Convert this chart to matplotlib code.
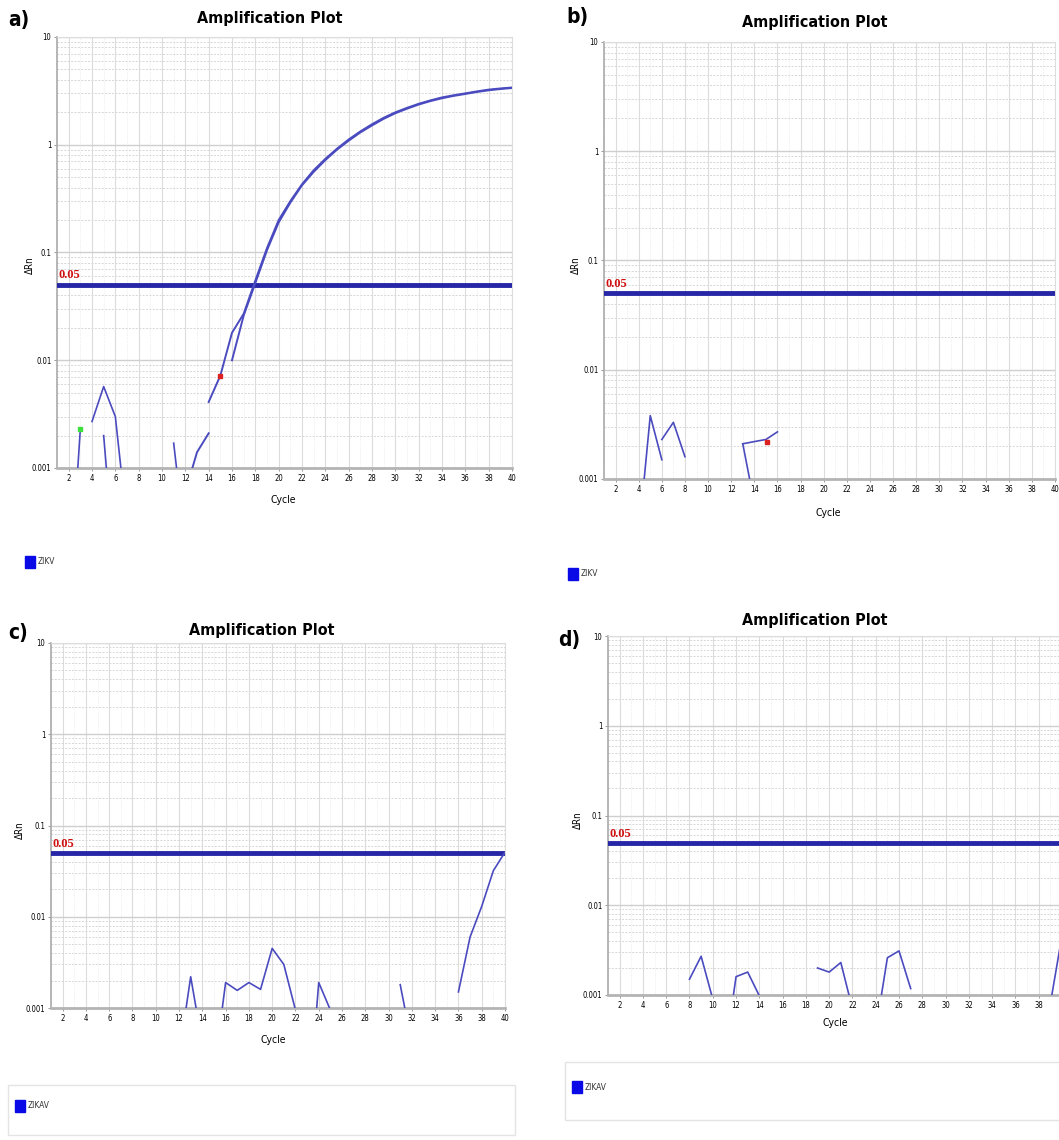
import numpy as np
import matplotlib
matplotlib.use('Agg')
import matplotlib.pyplot as plt
from matplotlib.patches import Rectangle
from matplotlib.ticker import FixedLocator, NullFormatter, LogLocator

plt.rcParams['font.family'] = ['DejaVu Sans']
plt.rcParams['font.stretch'] = 'condensed'

# ========== data (cycle, delta Rn) ==========
threshold = 0.05
y_ticks = [0.001, 0.01, 0.1, 1, 10]
y_ticklabels = ['0.001', '0.01', '0.1', '1', '10']
x_ticks = list(range(2, 41, 2))

# a) positive sample
a_amp1_x = list(range(14, 41))
a_amp1_y = [0.0041, 0.0072, 0.018, 0.027, 0.055, 0.11, 0.2, 0.3, 0.43, 0.58,
            0.74, 0.92, 1.12, 1.33, 1.55, 1.78, 2.0, 2.2, 2.4, 2.58,
            2.75, 2.88, 3.0, 3.13, 3.25, 3.33, 3.4]
a_amp2_x = [12, 13, 14, 15] + list(range(16, 41))
a_amp2_y = [0.0006, 0.0014, 0.0021, np.nan,
            0.010, 0.026, 0.052, 0.105, 0.19, 0.29, 0.42, 0.56, 0.72, 0.9,
            1.09, 1.3, 1.51, 1.74, 1.96, 2.16, 2.36, 2.54, 2.7, 2.84,
            2.96, 3.09, 3.2, 3.29, 3.36]
a_noise = [
    ([2, 3], [0.00005, 0.0023]),
    ([4, 5, 6, 7], [0.0027, 0.0057, 0.003, 0.0003]),
    ([5, 6], [0.002, 0.0001]),
    ([11, 12], [0.0017, 0.0002]),
]
a_green = (3, 0.0023)
a_red = (15, 0.0072)

# b) negative sample
b_noise = [
    ([4, 5, 6], [0.0003, 0.0038, 0.0015]),
    ([6, 7, 8], [0.0023, 0.0033, 0.0016]),
    ([13, 14], [0.0021, 0.0006]),
    ([13, 14, 15, 16], [0.0021, 0.0022, 0.0023, 0.0027]),
]
b_red = (15.1, 0.0022)

# c) late rise
c_noise = [
    ([12, 13, 14], [0.0003, 0.0022, 0.0004]),
    ([15, 16, 17, 18, 19, 20, 21, 22],
     [0.0002, 0.0019, 0.00156, 0.0019, 0.0016, 0.0045, 0.003, 0.00095]),
    ([23, 24, 25], [0.00005, 0.0019, 0.00095]),
    ([31, 32], [0.0018, 0.0004]),
    ([36, 37, 38, 39, 40], [0.0015, 0.006, 0.013, 0.032, 0.051]),
]

# d) negative
d_noise = [
    ([8, 9, 10], [0.0015, 0.0027, 0.0009]),
    ([11, 12, 13, 14], [0.0002, 0.0016, 0.0018, 0.00098]),
    ([19, 20, 21, 22], [0.002, 0.0018, 0.0023, 0.0007]),
    ([24, 25, 26, 27], [0.0004, 0.0026, 0.0031, 0.00118]),
    ([38, 39, 40], [0.00005, 0.0008, 0.0046]),
]

W, H = 1059, 1140
line_col = '#4b4bc0'
thr_col = '#2626a6'

fig = plt.figure(figsize=(W / 100, H / 100), dpi=100)


def rect(l, t, r, b):
    return [l / W, 1 - b / H, (r - l) / W, (b - t) / H]


def ftext(x, y, s, **kw):
    fig.text(x / W, 1 - y / H, s, **kw)


def panel(box, letter, letter_xy, title_xy, cyc_xy, drn_xy, xlabels=None):
    ax = fig.add_axes(rect(*box))
    ax.set_yscale('log')
    ax.set_xlim(1, 40)
    ax.set_ylim(0.001, 10)
    ax.xaxis.set_major_locator(FixedLocator(x_ticks))
    ax.xaxis.set_minor_locator(FixedLocator(range(1, 41)))
    ax.yaxis.set_major_locator(FixedLocator(y_ticks))
    ax.yaxis.set_minor_locator(LogLocator(base=10, subs=range(2, 10)))
    ax.yaxis.set_minor_formatter(NullFormatter())
    ax.set_yticklabels(y_ticklabels)
    if xlabels is not None:
        ax.set_xticklabels(xlabels)
    ax.tick_params(axis='both', which='major', labelsize=5.5, length=2,
                   width=0.6, color='#888888', pad=2)
    ax.tick_params(axis='both', which='minor', length=0)
    ax.grid(True, which='major', axis='x', color='#dcdcdc', lw=0.8)
    ax.grid(True, which='minor', axis='x', color='#e6e6e6', lw=0.6, ls=':')
    ax.grid(True, which='major', axis='y', color='#cfcfcf', lw=1.0)
    ax.grid(True, which='minor', axis='y', color='#d6d6d6', lw=0.7, ls=(0, (2, 1.5)))
    ax.set_axisbelow(True)
    for s in ['top', 'right']:
        ax.spines[s].set_color('#dddddd')
        ax.spines[s].set_linewidth(0.8)
    ax.spines['left'].set_color('#aaaaaa')
    ax.spines['left'].set_linewidth(1.2)
    ax.spines['bottom'].set_color('#b4b4b4')
    ax.spines['bottom'].set_linewidth(2)
    ax.axhline(threshold, color=thr_col, lw=3.5, zorder=3)
    ax.text(1.1, threshold * 1.08, '0.05', color='#d01010', fontsize=9,
            family='Liberation Serif', fontweight='bold', ha='left',
            va='bottom', zorder=4)
    ftext(letter_xy[0], letter_xy[1], letter, fontsize=15, fontweight='semibold',
          ha='left', va='center')
    ftext(title_xy[0], title_xy[1], 'Amplification Plot', fontsize=11.5,
          fontweight='bold', ha='center', va='center')
    ftext(cyc_xy[0], cyc_xy[1], 'Cycle', fontsize=7.5, ha='center', va='center')
    ftext(drn_xy[0], drn_xy[1], 'ΔRn', fontsize=7, rotation=90,
          ha='center', va='center')
    return ax


def draw(ax, traces):
    for xs, ys in traces:
        ax.plot(xs, ys, color=line_col, lw=1.2, zorder=5, clip_on=True)


def legend(x, y, label, box=None):
    if box is not None:
        l, t, r, b = box
        fig.patches.append(Rectangle((l / W, 1 - b / H), (r - l) / W, (b - t) / H,
                                     transform=fig.transFigure, fill=False,
                                     ec='#e4e4e4', lw=1.0))
    fig.patches.append(Rectangle(((x - 5) / W, 1 - (y + 6) / H), 10 / W, 12 / H,
                                 transform=fig.transFigure, color='#0a0ae6'))
    ftext(x + 8, y, label, fontsize=6, ha='left', va='center', color='#333333')


# ========== a) ==========
ax_a = panel((57, 37, 512, 468), 'a)', (8, 20), (270, 19), (283, 500), (30, 265))
ax_a.plot(a_amp1_x, a_amp1_y, color=line_col, lw=1.4, zorder=5)
ax_a.plot(a_amp2_x, a_amp2_y, color=line_col, lw=1.4, zorder=5)
draw(ax_a, a_noise)
ax_a.plot(*a_green, 's', color='#3ce03c', ms=3.5, zorder=6)
ax_a.plot(*a_red, 's', color='#dd2020', ms=3.5, zorder=6)
legend(30, 562, 'ZIKV')

# ========== b) ==========
ax_b = panel((604, 42, 1055, 479), 'b)', (566, 17), (815, 22), (828, 513), (576, 265))
draw(ax_b, b_noise)
ax_b.plot(*b_red, 's', color='#dd2020', ms=3.5, zorder=6)
legend(573, 574, 'ZIKV')

# ========== c) ==========
ax_c = panel((51, 643, 505, 1008), 'c)', (8, 633), (262, 631), (273, 1040), (20, 830))
draw(ax_c, c_noise)
legend(20, 1106, 'ZIKAV', box=(8, 1085, 515, 1135))

# ========== d) ==========
# the last tick label falls outside the cropped figure
d_xlabels = [str(t) for t in x_ticks[:-1]] + ['']
ax_d = panel((608, 636, 1062, 995), 'd)', (558, 640), (815, 620), (835, 1023), (578, 820),
             xlabels=d_xlabels)
draw(ax_d, d_noise)
legend(577, 1087, 'ZIKAV', box=(565, 1062, 1070, 1120))

plt.savefig('out.png', dpi=100)
